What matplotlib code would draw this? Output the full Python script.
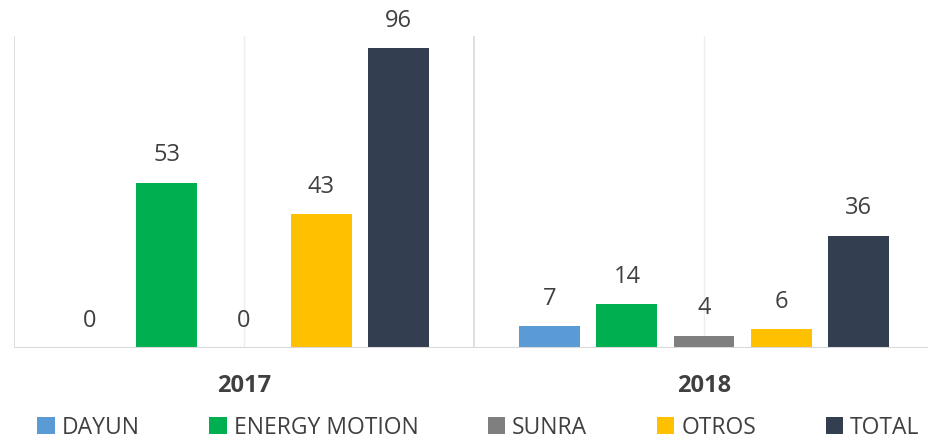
import matplotlib.pyplot as plt
import numpy as np

# data
years = ["2017", "2018"]
series = ["DAYUN", "ENERGY MOTION", "SUNRA", "OTROS", "TOTAL"]
dayun = [0, 7]
energy_motion = [53, 14]
sunra = [0, 4]
otros = [43, 6]
total = [96, 36]
colors = ["#5B9BD5", "#00B050", "#7F7F7F", "#FFC000", "#333F50"]

values = [dayun, energy_motion, sunra, otros, total]

plt.rcParams['font.family'] = ['Open Sans', 'DejaVu Sans']
text_col = "#404040"

fig = plt.figure(figsize=(9.29, 4.41), dpi=100)
ax = fig.add_axes([14 / 929, 93 / 441, 920 / 929, 312 / 441])

x = np.arange(len(years))
slot = 0.1674
width = 0.1326
for i, (name, vals, c) in enumerate(zip(series, values, colors)):
    pos = x + (i - 2) * slot
    bars = ax.bar(pos, vals, width, color=c, label=name, zorder=3)
    for b, v in zip(bars, vals):
        ax.annotate(str(v), (b.get_x() + b.get_width() / 2, v),
                    xytext=(0, 11), textcoords="offset points",
                    ha="center", va="bottom", fontsize=17, color=text_col)

ax.set_xlim(-0.5, 1.5)
ax.set_ylim(0, 100)

# category gridlines
for gx in [-0.5, 0.5, 1.5]:
    ax.axvline(gx, color="#D9D9D9", lw=1.2, zorder=1)
for gx in [0, 1]:
    ax.axvline(gx, color="#EEEEEE", lw=1.0, zorder=1)
ax.axhline(0, color="#D9D9D9", lw=1.5, zorder=4)

for s in ax.spines.values():
    s.set_visible(False)
ax.set_yticks([])
ax.set_xticks(x)
ax.set_xticklabels(years, fontsize=17, fontweight="bold", color=text_col)
ax.tick_params(axis="x", length=0, pad=19)

leg = fig.legend(loc="center", bbox_to_anchor=(0.515, 0.03), ncol=5,
                 frameon=False, fontsize=16.5, handlelength=0.75, handleheight=0.75,
                 handletextpad=0.3, columnspacing=3.05, borderaxespad=0, borderpad=0)
for t in leg.get_texts():
    t.set_color(text_col)

fig.savefig("out.png", dpi=100)
